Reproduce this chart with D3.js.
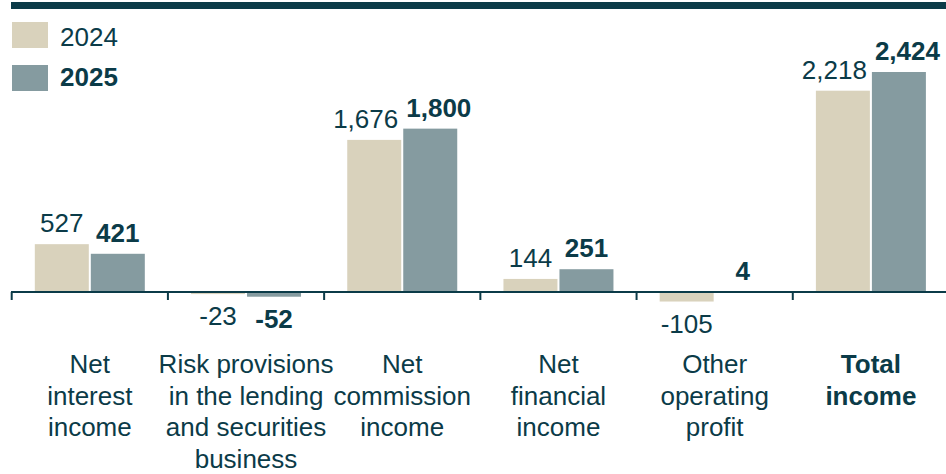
<!DOCTYPE html>
<html>
<head>
<meta charset="utf-8">
<script src="https://cdn.jsdelivr.net/npm/d3@7"></script>
<style>
  body { margin: 0; background: #fff; }
  svg text { font-family: "Liberation Sans", Arial, sans-serif; fill: #0b3b48; }
</style>
</head>
<body>
<svg id="chart" width="946" height="474"></svg>
<script>
// data (EUR m)
var years = ["2024", "2025"];
var categories = ["nii", "risk", "nci", "nfi", "oop", "total"];
var categoryLines = [
  ["Net", "interest", "income"],
  ["Risk provisions", "in the lending", "and securities", "business"],
  ["Net", "commission", "income"],
  ["Net", "financial", "income"],
  ["Other", "operating", "profit"],
  ["Total", "income"]
];
var values2024 = [527, -23, 1676, 144, -105, 2218];
var values2025 = [421, -52, 1800, 251, 4, 2424];

var color2024 = "#d9d2bc";
var color2025 = "#859ba0";
var colorDark = "#0b3b48";

const svg = d3.select("svg#chart");

const x = d3.scaleBand()
  .domain(categories)
  .range([11.7, 949])
  .padding(0);

const x1 = d3.scaleBand()
  .domain(years)
  .range([-55, 55])
  .paddingInner(0.036);

const y = d3.scaleLinear()
  .domain([0, 2424])
  .range([292, 72]);

const fmt = v => d3.format(",")(v).replace("\u2212", "-");

// top rule
svg.append("rect")
  .attr("x", 11).attr("y", 2)
  .attr("width", 935).attr("height", 7)
  .attr("fill", colorDark);

// legend
const legend = svg.append("g");
years.forEach(function (yr, i) {
  legend.append("rect")
    .attr("x", 12).attr("y", 22 + i * 43)
    .attr("width", 36).attr("height", 26)
    .attr("fill", i == 0 ? color2024 : color2025);
  legend.append("text")
    .attr("x", 60).attr("y", 46 + i * 40)
    .attr("font-size", 26)
    .attr("font-weight", i == 0 ? "normal" : "bold")
    .text(yr);
});

// bars
var rows = categories.map(function (c, i) {
  return { cat: c, vals: [
    { yr: "2024", v: values2024[i] },
    { yr: "2025", v: values2025[i] }
  ] };
});

const groups = svg.selectAll("g.cat")
  .data(rows)
  .enter().append("g")
  .classed("cat", true)
  .attr("transform", d => "translate(" + (x(d.cat) + x.bandwidth() / 2) + ",0)");

groups.selectAll("rect")
  .data(d => d.vals)
  .enter().append("rect")
  .attr("x", d => x1(d.yr))
  .attr("width", x1.bandwidth())
  .attr("y", d => Math.min(y(d.v), y(0)))
  .attr("height", d => Math.abs(y(d.v) - y(0)))
  .attr("fill", d => d.yr == "2024" ? color2024 : color2025);

groups.each(function () {
  const labels = d3.select(this).selectAll("text.val")
    .data(d => d.vals)
    .enter().append("text")
    .classed("val", true)
    .attr("x", d => x1(d.yr) + x1.bandwidth() / 2)
    .attr("y", d => d.v >= 0 ? y(d.v) - 12 : y(d.v) + 31)
    .attr("text-anchor", "middle")
    .attr("font-size", 26)
    .attr("font-weight", d => d.yr == "2025" ? "bold" : "normal")
    .text(d => fmt(d.v));

  // push the two labels apart when they would collide
  const n = labels.nodes();
  const w0 = n[0].getComputedTextLength(), w1 = n[1].getComputedTextLength();
  const c0 = +n[0].getAttribute("x"), c1 = +n[1].getAttribute("x");
  const overlap = (c0 + w0 / 2 + 8) - (c1 - w1 / 2);
  if (overlap > 0) {
    n[0].setAttribute("x", c0 - overlap / 2);
    n[1].setAttribute("x", c1 + overlap / 2);
  }
});

// axis line with ticks at category boundaries
svg.append("line")
  .attr("x1", 11).attr("x2", 946)
  .attr("y1", 292).attr("y2", 292)
  .attr("stroke", colorDark).attr("stroke-width", 2);

var bounds = categories.map(c => x(c)).concat([x.range()[1]]);
svg.selectAll("line.tick")
  .data(bounds)
  .enter().append("line")
  .classed("tick", true)
  .attr("x1", d => d).attr("x2", d => d)
  .attr("y1", 292).attr("y2", 300)
  .attr("stroke", colorDark).attr("stroke-width", 2);

// category labels
svg.selectAll("text.cat")
  .data(categories)
  .enter().append("text")
  .classed("cat", true)
  .attr("text-anchor", "middle")
  .attr("font-size", 26)
  .attr("font-weight", d => d == "total" ? "bold" : "normal")
  .each(function (d, i) {
    const t = d3.select(this);
    categoryLines[i].forEach(function (line, j) {
      t.append("tspan")
        .attr("x", x(d) + x.bandwidth() / 2)
        .attr("y", 373 + j * 31.7)
        .text(line);
    });
  });
</script>
</body>
</html>
